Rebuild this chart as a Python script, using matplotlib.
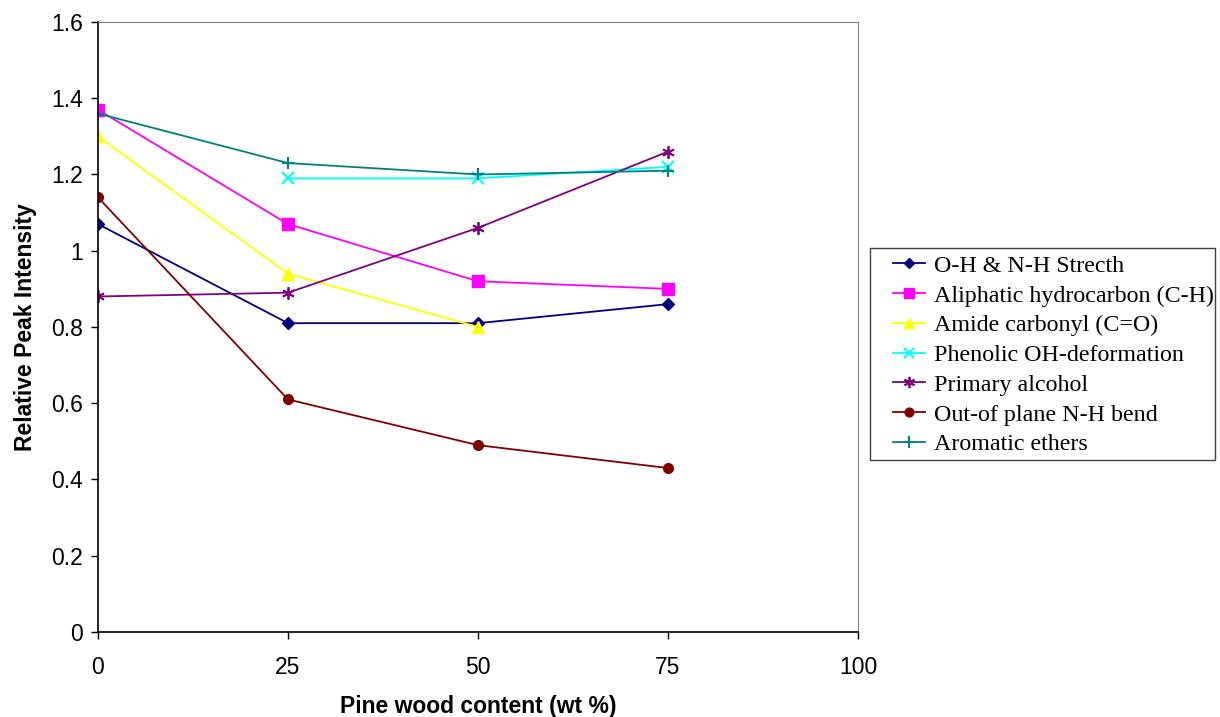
import matplotlib
matplotlib.use("Agg")
import matplotlib.pyplot as plt
from matplotlib.patches import Rectangle
import numpy as np

# pine wood content (wt %)
x = [0, 25, 50, 75]

oh_nh = [1.07, 0.81, 0.81, 0.86]
aliphatic = [1.37, 1.07, 0.92, 0.90]
amide = [1.30, 0.94, 0.80]
phenolic_x = [25, 50, 75]
phenolic = [1.19, 1.19, 1.22]
alcohol = [0.88, 0.89, 1.06, 1.26]
nh_bend = [1.14, 0.61, 0.49, 0.43]
ethers = [1.36, 1.23, 1.20, 1.21]

W, H = 1220, 717
fig = plt.figure(figsize=(W / 100, H / 100), dpi=100)
ax = fig.add_axes([0.0803, 0.1186, 0.623, 0.8507])

ax.plot(x, oh_nh, color='#000080', marker='D', ms=6, lw=1.3, label='O-H & N-H Strecth')
ax.plot(x, aliphatic, color='#FF00FF', marker='s', ms=8, lw=1.3, label='Aliphatic hydrocarbon (C-H)')
ax.plot(x[:3], amide, color='#FFFF00', marker='^', ms=8, lw=1.3, label='Amide carbonyl (C=O)')
ax.plot(phenolic_x, phenolic, color='#00FFFF', marker='x', ms=8, mew=1.5, lw=1.3, label='Phenolic OH-deformation')
ax.plot(x, alcohol, color='#800080', marker=(6, 2, 0), ms=9, mew=1.3, lw=1.3, label='Primary alcohol')
ax.plot(x, nh_bend, color='#800000', marker='o', ms=7, lw=1.3, label='Out-of plane N-H bend')
ax.plot(x, ethers, color='#008080', marker='+', ms=9, mew=1.5, lw=1.3, label='Aromatic ethers')

ax.set_xlim(0, 100)
ax.set_ylim(0, 1.6)
ax.set_xticks([0, 25, 50, 75, 100])
ax.set_yticks(np.arange(0, 1.61, 0.2))
ax.set_yticklabels(['0', '0.2', '0.4', '0.6', '0.8', '1', '1.2', '1.4', '1.6'])
ax.tick_params(labelsize=16.5, length=5, width=1, direction='out')
ax.tick_params(axis='x', pad=12)
ax.tick_params(axis='y', pad=6)
for lab in ax.get_xticklabels() + ax.get_yticklabels():
    lab.set_family('Liberation Sans')

ax.spines['left'].set_linewidth(1.2)
ax.spines['bottom'].set_linewidth(1.2)
ax.spines['top'].set_color('#808080')
ax.spines['right'].set_color('#808080')
ax.spines['top'].set_linewidth(0.8)
ax.spines['right'].set_linewidth(0.8)

ax.set_xlabel('Pine wood content (wt %)', fontsize=16.5, fontweight='bold',
              family='Liberation Sans', labelpad=12)
ax.set_ylabel('Relative Peak Intensity', fontsize=16.5, fontweight='bold',
              family='Liberation Sans', labelpad=10)

# legend box drawn separately so the entries sit inset from its left edge
fig.patches.append(Rectangle((870 / W, 1 - 460 / H), 345 / W, 212 / H,
                             transform=fig.transFigure, fill=False,
                             ec='#404040', lw=1.0))
leg = fig.legend(loc='upper left', bbox_to_anchor=(893 / W, 1 - 255 / H),
                 prop={'family': 'Liberation Serif', 'size': 17.3},
                 frameon=False, handlelength=1.35, handletextpad=0.35,
                 labelspacing=0.33, borderpad=0, borderaxespad=0,
                 markerscale=0.9)

fig.savefig('out.png', dpi=100)
